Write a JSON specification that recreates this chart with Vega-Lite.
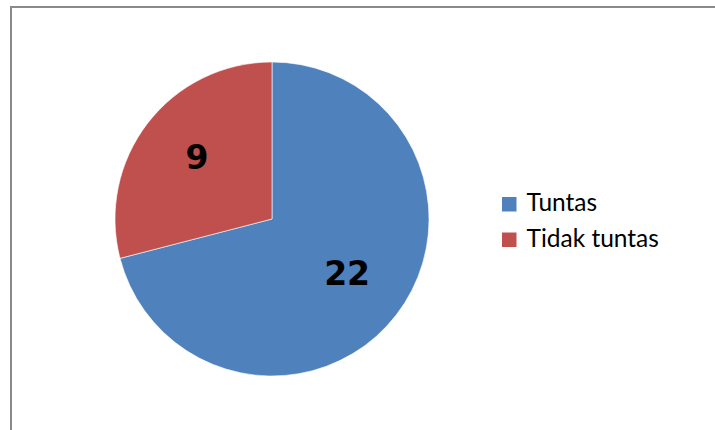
{
  "$schema": "https://vega.github.io/schema/vega-lite/v6.json",
  "autosize": {"type": "none"},
  "padding": {"left": 11, "top": 7, "right": 0, "bottom": 0},
  "width": 706,
  "height": 426,
  "background": "#ffffff",
  "view": {"stroke": "#8a8a8a", "strokeWidth": 2, "fill": "#ffffff"},
  "config": {
    "view": {"stroke": "#8a8a8a", "strokeWidth": 2},
    "style": {"cell": {"stroke": "#8a8a8a", "strokeWidth": 2}}
  },
  "data": {
    "values": [
      {"kategori": "Tuntas", "jumlah": 22, "urut": 1},
      {"kategori": "Tidak tuntas", "jumlah": 9, "urut": 2}
    ]
  },
  "encoding": {
    "theta": {"field": "jumlah", "type": "quantitative", "stack": true},
    "order": {"field": "urut", "type": "quantitative"},
    "color": {
      "field": "kategori",
      "type": "nominal",
      "scale": {"domain": ["Tuntas", "Tidak tuntas"], "range": ["#4F81BD", "#C0504D"]},
      "legend": {
        "title": null,
        "orient": "none",
        "legendX": 486,
        "legendY": 185,
        "padding": 0,
        "symbolType": "square",
        "symbolSize": 210,
        "symbolStrokeWidth": 0,
        "labelFont": "Lato",
        "labelFontSize": 24.5,
        "labelColor": "#000000",
        "labelOffset": 5,
        "rowPadding": 10.5,
        "labelLimit": 300
      }
    }
  },
  "layer": [
    {
      "mark": {"type": "arc", "radius": 157, "x": 261, "y": 212, "stroke": "#ffffff", "strokeWidth": 0.6}
    },
    {
      "mark": {"type": "text", "radius": 95, "x": 261, "y": 210, "font": "DejaVu Sans", "fontWeight": "bold", "fontSize": 33, "color": "#000000", "baseline": "middle", "align": "center"},
      "encoding": {
        "text": {"field": "jumlah", "type": "quantitative"},
        "color": {"value": "#000000"}
      }
    }
  ]
}
